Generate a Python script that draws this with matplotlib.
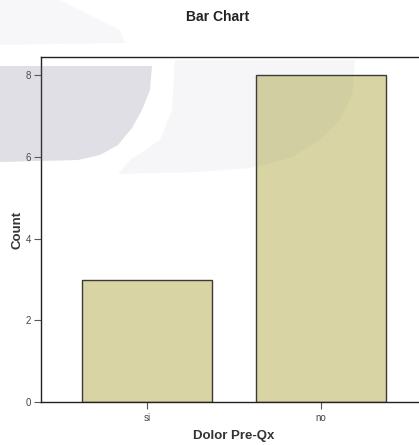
import matplotlib.pyplot as plt
from matplotlib.patches import Polygon

# data
categories = ["si", "no"]
counts = [3, 8]

plt.rcParams['font.family'] = ['Liberation Sans', 'DejaVu Sans']

W, H = 419, 445
fig = plt.figure(figsize=(W / 100, H / 100), dpi=100)

# axes frame in pixels: left 41, top 57, bottom 402, right runs off the picture
left, top, bottom, right = 41, 57, 402, 427
ax = fig.add_axes([left / W, 1 - bottom / H, (right - left) / W, (bottom - top) / H])

x = range(len(categories))
ax.bar(x, counts, width=0.75, color='#d8d4a4', edgecolor='#3a3a3a', linewidth=1.0, zorder=2)

ax.set_xlim(-0.61, 1.61)
ax.set_ylim(0, 8.45)
ax.set_xticks(list(x))
ax.set_xticklabels(categories)
ax.set_yticks([0, 2, 4, 6, 8])

for s in ax.spines.values():
    s.set_color('#222222')
    s.set_linewidth(1.0)

ax.tick_params(axis='y', length=5, width=0.8, colors='#555555', labelsize=7, pad=2)
ax.tick_params(axis='x', length=5, width=0.8, colors='#555555', labelsize=7, pad=3)
ax.tick_params(axis='both', labelcolor='#444444')

ax.set_xlabel('Dolor Pre-Qx', fontsize=9.5, fontweight='bold', color='#333333', labelpad=5)
ax.set_ylabel('Count', fontsize=9.5, fontweight='bold', color='#333333', labelpad=2)
fig.text(218 / W, 1 - 17 / H, 'Bar Chart', ha='center', va='center',
         fontsize=10, fontweight='bold', color='#222222')

# faint watermark shapes on top of the chart
def px(pts):
    return [(a / W, 1 - b / H) for a, b in pts]

wm1 = Polygon(px([(0, 66), (152, 66), (150, 90), (142, 110), (132, 128), (118, 145),
                  (100, 155), (78, 160), (0, 162)]),
              closed=True, transform=fig.transFigure, facecolor='#6e6e8c',
              alpha=0.22, edgecolor='none', zorder=5)
wm2 = Polygon(px([(175, 60), (355, 60), (352, 95), (340, 120), (320, 140),
                  (290, 158), (250, 168), (200, 172), (118, 174), (130, 160),
                  (160, 140), (172, 110)]),
              closed=True, transform=fig.transFigure, facecolor='#6e6e8c',
              alpha=0.06, edgecolor='none', zorder=5)
wm3 = Polygon(px([(0, 0), (60, 0), (120, 30), (125, 43), (0, 45)]),
              closed=True, transform=fig.transFigure, facecolor='#6e6e8c',
              alpha=0.05, edgecolor='none', zorder=5)
for p in (wm1, wm2, wm3):
    fig.patches.append(p)

fig.savefig('out.png', dpi=100)
